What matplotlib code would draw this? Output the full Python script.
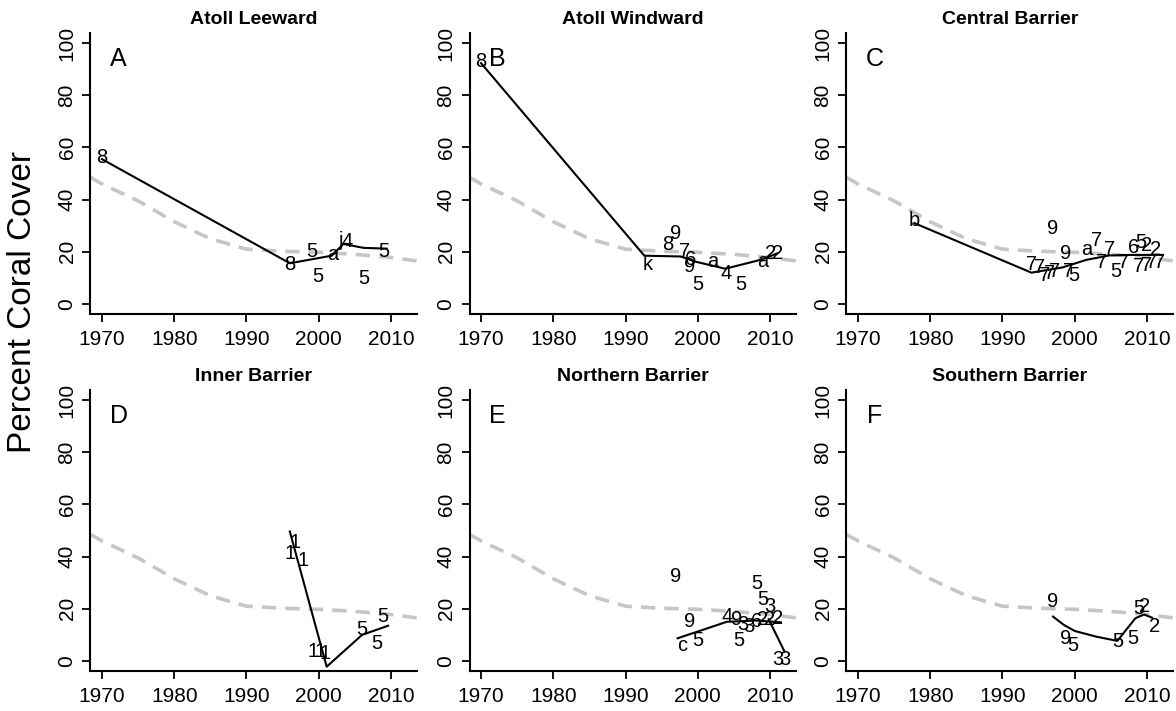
import numpy as np
import matplotlib
matplotlib.use("Agg")
import matplotlib.pyplot as plt

plt.rcParams["font.family"] = ["Liberation Sans", "DejaVu Sans"]

# regional trend (grey dashed), same in every panel
trend_yr  = [1968.4, 1970, 1975, 1980, 1985, 1990, 1995, 2000, 2005, 2010, 2013.6]
trend_cov = [48.5, 46.0, 39.5, 31.5, 25.0, 21.0, 20.2, 19.8, 19.0, 17.8, 16.5]

# A - Atoll Leeward
a_line_yr  = [1970, 1996, 2001.8, 2003.4, 2006.2, 2009.4]
a_line_cov = [55.5, 15.6, 18.5, 23.0, 21.5, 21.2]
a_code = ["8", "8", "5", "5", "a", "j", "4", "5", "5"]
a_yr   = [1970, 1996, 1999.1, 1999.9, 2002, 2003, 2003.9, 2006.2, 2009]
a_cov  = [56, 15, 20, 10.5, 19, 24.5, 24, 9.8, 20]

# B - Atoll Windward
b_line_yr  = [1970, 1992.6, 1997.6, 1999.7, 2003.8, 2008.8, 2011]
b_line_cov = [92.3, 18.5, 18.2, 16.2, 13.5, 17.0, 19.4]
b_code = ["8", "k", "8", "9", "7", "6", "9", "5", "a", "4", "5", "a", "2", "2"]
b_yr   = [1970, 1993, 1995.8, 1996.9, 1998.1, 1999, 1998.8, 1999.96, 2002, 2003.9, 2006, 2009, 2010.1, 2011.1]
b_cov  = [93, 15.3, 22.6, 27, 20, 17, 14.3, 7.3, 16.2, 11.8, 7.3, 16.2, 19.4, 19.4]

# C - Central Barrier
c_line_yr  = [1977.8, 1994, 1998.3, 2001.6, 2004.8, 2008, 2012.2]
c_line_cov = [31, 12, 14, 16.9, 18.6, 18.8, 18.8]
c_code = ["b", "9", "7", "7", "7", "7", "7", "9", "7", "5", "a", "7", "7", "7",
          "5", "7", "6", "5", "2", "2", "7", "7", "7", "7"]
c_yr   = [1977.8, 1996.9, 1994, 1995.1, 1995.8, 1996.5, 1997.2, 1998.8, 1999.2, 1999.9,
          2001.6, 2003, 2003.7, 2004.8, 2005.7, 2006.8, 2008.2, 2009.2, 2010, 2011.2,
          2008.9, 2009.9, 2010.7, 2011.7]
c_cov  = [32, 29, 15, 14, 11, 11.8, 12.3, 19.5, 12.3, 11.1, 20.7, 24.5, 15.7, 20.7,
          12.3, 16, 21.8, 23.4, 22.5, 20.7, 14.2, 14.9, 15.7, 15.7]

# D - Inner Barrier
d_line_yr  = [1996, 2001.1, 2006, 2009.6]
d_line_cov = [49.6, -2.2, 10, 13.5]
d_code = ["1", "1", "1", "1", "1", "1", "5", "5", "5"]
d_yr   = [1996.7, 1996, 1997.8, 1999.2, 2000.2, 2000.9, 2005.9, 2008, 2008.9]
d_cov  = [45.5, 41, 38.6, 3.6, 3.6, 3, 12, 6.8, 17]

# E - Northern Barrier (two fitted pieces)
e_line_yr  = [1997.2, 2004, 2008, 2011.5]
e_line_cov = [8.7, 15, 15.5, 14.8]
e_line2_yr  = [2009.8, 2012]
e_line2_cov = [16, 3.6]
e_code = ["9", "5", "5", "3", "2", "9", "c", "5", "4", "9", "3", "3", "5",
          "6", "2", "2", "3", "3"]
e_yr   = [1996.9, 2008.1, 2009, 2009.9, 2011.1, 1998.8, 1997.9, 1999.96, 2004.1,
          2005.3, 2006.2, 2007.1, 2005.7, 2008.1, 2009, 2009.9, 2011.1, 2012]
e_cov  = [32.5, 29.8, 23.4, 20.8, 16.4, 15.1, 6.1, 8, 17, 15.7, 13.8, 13.1, 8,
          15.1, 15.7, 15.7, 0.4, 0.4]

# F - Southern Barrier
f_line_yr  = [1997, 1998.5, 2000, 2003, 2005.9, 2008.4, 2009.6, 2010.7]
f_line_cov = [17, 13.8, 11.5, 9.3, 7.7, 16.4, 17.8, 16.6]
f_code = ["9", "9", "5", "5", "5", "5", "2", "2"]
f_yr   = [1997, 1998.8, 1999.8, 2005.9, 2008, 2008.9, 2009.6, 2011]
f_cov  = [22.7, 8.7, 6.1, 7.4, 8.7, 20.2, 20.8, 13.1]

titles  = ["Atoll Leeward", "Atoll Windward", "Central Barrier",
           "Inner Barrier", "Northern Barrier", "Southern Barrier"]
letters = ["A", "B", "C", "D", "E", "F"]

panels = [
    ([(a_line_yr, a_line_cov)], a_code, a_yr, a_cov),
    ([(b_line_yr, b_line_cov)], b_code, b_yr, b_cov),
    ([(c_line_yr, c_line_cov)], c_code, c_yr, c_cov),
    ([(d_line_yr, d_line_cov)], d_code, d_yr, d_cov),
    ([(e_line_yr, e_line_cov), (e_line2_yr, e_line2_cov)], e_code, e_yr, e_cov),
    ([(f_line_yr, f_line_cov)], f_code, f_yr, f_cov),
]

W, H = 1176, 711
fig = plt.figure(figsize=(W / 100, H / 100), dpi=100)

lefts = [90.4, 469.5, 846.4]
tops = [32.6, 389.6]
aw, ah = 326.6, 281.8

for i, (lines, code, yr, cov) in enumerate(panels):
    r, c = divmod(i, 3)
    ax = fig.add_axes([lefts[c] / W, 1 - (tops[r] + ah) / H, aw / W, ah / H])
    ax.plot(trend_yr, trend_cov, color="#c6c6c6", lw=2.6, ls=(0, (4, 2.5)), zorder=1)
    for lx, ly in lines:
        ax.plot(lx, ly, color="black", lw=1.5, zorder=2)
    for s, x, y in zip(code, yr, cov):
        ax.text(x, y, s, fontsize=14.5, ha="center", va="center", zorder=3)
    ax.text(1972.3, 94, letters[i], fontsize=18, ha="center", va="center")
    ax.set_xlim(1968.4, 2013.6)
    ax.set_ylim(-4, 104)
    ax.set_xticks([1970, 1980, 1990, 2000, 2010])
    ax.set_yticks([0, 20, 40, 60, 80, 100])
    ax.tick_params(labelsize=15, width=1.3, length=6)
    ax.tick_params(axis="x", pad=5)
    ax.tick_params(axis="y", pad=4)
    for lab in ax.get_yticklabels():
        lab.set_rotation(90)
        lab.set_va("center")
    ax.spines["top"].set_visible(False)
    ax.spines["right"].set_visible(False)
    ax.spines["left"].set_linewidth(1.5)
    ax.spines["bottom"].set_linewidth(1.5)
    ax.set_title(titles[i], fontsize=14, fontweight="bold", pad=6)

fig.text(23 / W, 1 - 302 / H, "Percent Coral Cover", rotation=90,
         fontsize=24, ha="center", va="center")

fig.savefig("out.png", dpi=100)
